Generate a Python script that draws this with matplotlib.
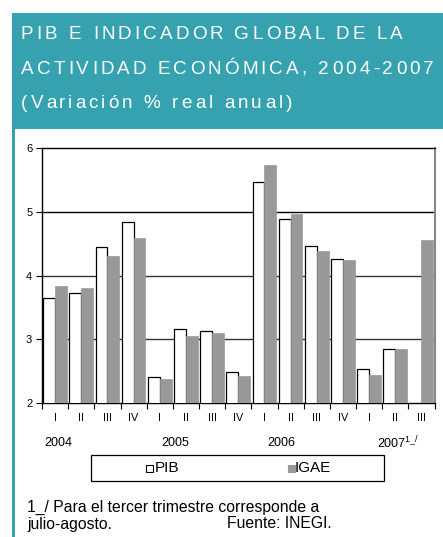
import matplotlib
matplotlib.use("Agg")
import matplotlib.pyplot as plt
from matplotlib.patches import Rectangle
from matplotlib.font_manager import FontProperties
import numpy as np

plt.rcParams['font.family'] = ['Liberation Sans', 'DejaVu Sans']

quarters = ["I", "II", "III", "IV", "I", "II", "III", "IV", "I", "II", "III", "IV", "I", "II", "III"]
years = ["2004", "2005", "2006", "2007"]
pib = [3.64, 3.72, 4.45, 4.84, 2.41, 3.16, 3.13, 2.48, 5.47, 4.89, 4.46, 4.26, 2.54, 2.84, np.nan]
igae = [3.83, 3.80, 4.30, 4.59, 2.38, 3.05, 3.10, 2.42, 5.73, 4.96, 4.38, 4.24, 2.44, 2.85, 4.55]

W, H = 443, 537
fig = plt.figure(figsize=(W / 100, H / 100), dpi=100)
renderer = fig.canvas.get_renderer()

def fx(px):
    return px / W

def fy(py):
    return 1 - py / H

teal = "#36A2AF"
fig.patches.append(Rectangle((fx(12), fy(129)), fx(443 - 12), 116 / H,
                             transform=fig.transFigure, facecolor=teal, edgecolor="none"))
fig.patches.append(Rectangle((fx(12), 0), fx(2.5), fy(129),
                             transform=fig.transFigure, facecolor=teal, edgecolor="none"))

title_lines = ["PIB E INDICADOR GLOBAL DE LA",
               "ACTIVIDAD ECONÓMICA, 2004-2007",
               "(Variación % real anual)"]
tprop = FontProperties(family="Liberation Sans", size=13.6)

def text_w(s):
    w, h, d = renderer.get_text_width_height_descent(s, tprop, ismath=False)
    return w

ref_w = text_w("I")
track = 3.1
title_y = [34.5, 69.5, 104]
for i, line in enumerate(title_lines):
    for k, ch in enumerate(line):
        if ch == " ":
            continue
        px = 21 + (text_w(line[:k] + "I") - ref_w if k > 0 else 0) + k * track
        fig.text(fx(px), fy(title_y[i]), ch, color="white", fontproperties=tprop,
                 va="center", ha="left")

ax = fig.add_axes([fx(42), fy(403), fx(434.5 - 42), (403 - 148) / H])
n = len(quarters)
x = np.arange(n)
bw = 0.45
ax.bar(x - bw / 2, pib, width=bw, color="white", edgecolor="black", linewidth=0.9, zorder=3)
ax.bar(x + bw / 2, igae, width=bw, color="#999999", edgecolor="#999999", linewidth=0.5, zorder=3)

ax.set_ylim(2, 6)
ax.set_xlim(-0.5, n - 0.5)
ax.set_yticks([2, 3, 4, 5, 6])
ax.tick_params(axis="y", labelsize=8, length=4, width=0.8, pad=3)
for yv in [3, 4, 5]:
    ax.axhline(yv, color="#333333" if yv != 5 else "black", linewidth=1.0, zorder=1)
ax.set_xticks(np.arange(n + 1) - 0.5)
ax.set_xticklabels([])
ax.tick_params(axis="x", length=4, width=0.8, direction="out")
for s in ["top", "left", "bottom"]:
    ax.spines[s].set_color("black")
    ax.spines[s].set_linewidth(1.0)
ax.spines["right"].set_color("#888888")
ax.spines["right"].set_linewidth(1.5)

for i, q in enumerate(quarters):
    ax.text(i, -0.059, q, transform=ax.get_xaxis_transform(), ha="center", va="center", fontsize=7.8)

year_pos = [0.13, 4.6, 8.66, 13.1]
for yp, yl in zip(year_pos, years):
    label = yl if yl != "2007" else yl + r"$^{\mathregular{1\_/}}$"
    ax.text(yp, -0.157, label, transform=ax.get_xaxis_transform(), ha="center", va="center", fontsize=9)

# legend box
fig.patches.append(Rectangle((fx(91), fy(481)), fx(384 - 91), (481 - 455) / H,
                             transform=fig.transFigure, facecolor="white", edgecolor="black", linewidth=0.9))
fig.patches.append(Rectangle((fx(146), fy(472)), fx(7), 7 / H,
                             transform=fig.transFigure, facecolor="white", edgecolor="black", linewidth=0.8))
fig.text(fx(155), fy(468), "PIB", fontsize=11, va="center", ha="left")
fig.patches.append(Rectangle((fx(288), fy(472)), fx(7), 7 / H,
                             transform=fig.transFigure, facecolor="#999999", edgecolor="#999999", linewidth=0.8))
fig.text(fx(295), fy(468), "IGAE", fontsize=11, va="center", ha="left")

fig.text(fx(27), fy(507), "1_/ Para el tercer trimestre corresponde a", fontsize=11.3, va="center", ha="left")
fig.text(fx(27), fy(524), "julio-agosto.", fontsize=11.3, va="center", ha="left")
fig.text(fx(227), fy(524), "Fuente: INEGI.", fontsize=11.3, va="center", ha="left")

fig.savefig("out.png", dpi=100)
